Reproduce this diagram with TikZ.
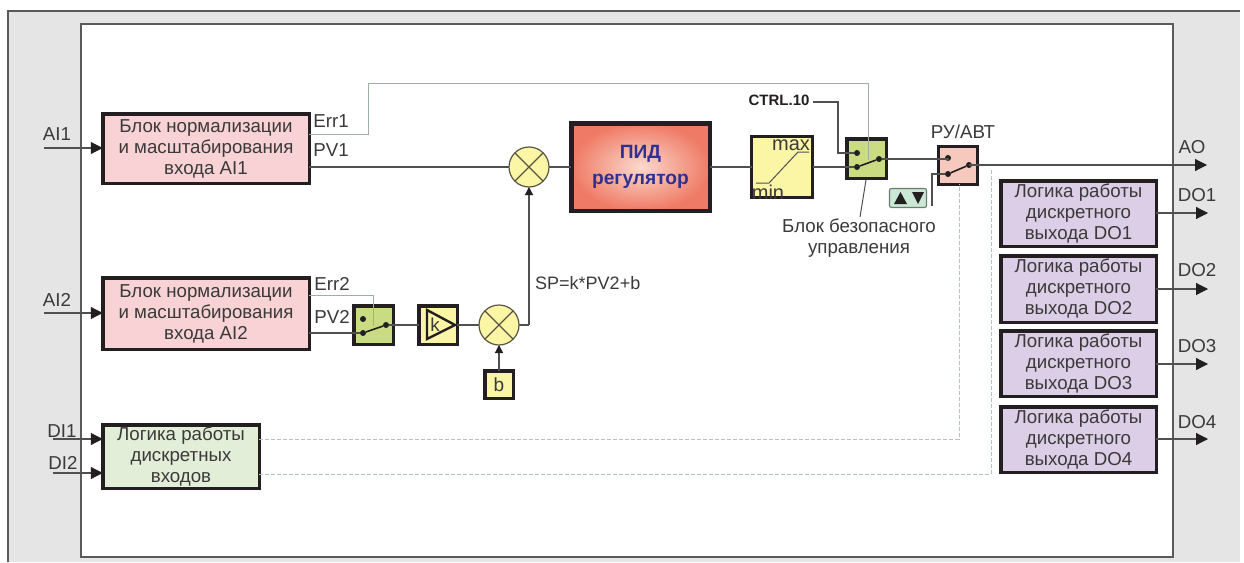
\documentclass[tikz,border=0pt]{standalone}
\usepackage{fontspec}
\setmainfont{Liberation Sans}
\usetikzlibrary{arrows.meta,calc,shadings}
\definecolor{txt}{HTML}{3A3A3A}
\definecolor{wire}{HTML}{505050}
\definecolor{softwire}{HTML}{9DB0A4}
\definecolor{dashwire}{HTML}{B4C4BA}
\definecolor{edge}{HTML}{231F20}
\definecolor{pinkbox}{HTML}{F8D2D4}
\definecolor{greenbox}{HTML}{E3EED8}
\definecolor{lilacbox}{HTML}{DCCEE6}
\definecolor{switchgreen}{HTML}{C9DC82}
\definecolor{switchpink}{HTML}{F6C8BE}
\definecolor{yellowbox}{HTML}{FBF5A6}
\definecolor{pidouter}{HTML}{EF7B66}
\definecolor{pidinner}{HTML}{FBD9CC}
\definecolor{pidtext}{HTML}{2E3192}
\definecolor{panel}{HTML}{E5E5E5}
\definecolor{panelline}{HTML}{5A5A5A}
\definecolor{btnfill}{HTML}{CBE7D6}
\tikzset{
  sz/.style 2 args={minimum width=#1pt,minimum height=#2pt},
  block/.style={draw=edge,line width=3.5pt,inner sep=0pt,outer sep=0pt,text=txt,align=center,
    font=\fontsize{18.7}{21}\selectfont},
  small/.style={draw=edge,line width=3.5pt,inner sep=0pt,outer sep=0pt,text=txt},
  lbl/.style={text=txt,inner sep=0pt,font=\fontsize{18.7}{21}\selectfont,align=center},
  sumnode/.style={circle,draw=edge!75!yellowbox,line width=1.2pt,fill=yellowbox,minimum size=40pt,inner sep=0pt,outer sep=0pt},
  wireline/.style={draw=wire,line width=1.2pt},
  softline/.style={draw=softwire,line width=1pt},
  dashline/.style={draw=dashwire,line width=1pt,dash pattern=on 4pt off 2pt},
  arr/.style={wireline,-{Triangle[length=12pt,width=12pt,color=edge,fill=edge]}},
  arrsmall/.style={wireline,-{Triangle[length=8pt,width=8pt,color=edge,fill=edge]}},
  dotnode/.style={circle,fill=edge,minimum size=6pt,inner sep=0pt,outer sep=0pt},
  lever/.style={draw=edge,line width=1.6pt},
}
\begin{document}
\begin{tikzpicture}[x=1pt,y=-1pt]
\useasboundingbox (0,0) rectangle (1244,562);
% panel
\fill[panel] (8,11) rectangle (1240,562);
\draw[panelline,line width=1.2pt] (8,562) -- (8,11) -- (1240,11);
\draw[panelline,line width=1.2pt,fill=white] (81,24) rectangle (1173,557);
% input blocks
\node[block,sz={206.5}{69.5},fill=pinkbox] (ai1) at (206,148.5) {Блок нормализации\\и масштабирования\\входа AI1};
\node[block,sz={206.5}{71.5},fill=pinkbox] (ai2) at (206,313.5) {Блок нормализации\\и масштабирования\\входа AI2};
\node[block,sz={156.5}{63.5},fill=greenbox] (di) at (181,456.5) {Логика работы\\дискретных\\входов};
% right blocks
\node[block,sz={155.5}{65.5},fill=lilacbox] (do1) at (1078.5,213.5) {Логика работы\\дискретного\\выхода DO1};
\node[block,sz={155.5}{66.5},fill=lilacbox] (do2) at (1078.5,289) {Логика работы\\дискретного\\выхода DO2};
\node[block,sz={155.5}{65.5},fill=lilacbox] (do3) at (1078.5,363.5) {Логика работы\\дискретного\\выхода DO3};
\node[block,sz={155.5}{65.5},fill=lilacbox] (do4) at (1078.5,439.5) {Логика работы\\дискретного\\выхода DO4};
% PID
\node[draw=edge,line width=4.5pt,sz={138.5}{87.5},inner sep=0pt,outer sep=0pt,
  inner color=pidinner,outer color=pidouter,align=center,text=pidtext,
  font=\fontsize{19.2}{26}\selectfont\bfseries] (pid) at (640.5,167) {ПИД\\регулятор};
% summing junctions
\node[sumnode] (sum1) at (529,167) {};
\draw[edge!75!yellowbox,line width=1.2pt] (sum1.45) -- (sum1.225) (sum1.135) -- (sum1.315);
\node[sumnode] (sum2) at (499,325) {};
\draw[edge!75!yellowbox,line width=1.2pt] (sum2.45) -- (sum2.225) (sum2.135) -- (sum2.315);
% limiter
\node[small,sz={61}{61},fill=yellowbox] (lim) at (782,167) {};
\coordinate (lima) at (756,183);\coordinate (limb) at (769,183);
\coordinate (limc) at (798,152);\coordinate (limd) at (809,152);
\draw[draw=wire,line width=1pt] (lima) -- (limb) -- (limc) -- (limd);
\node[lbl,font=\fontsize{20}{21}\selectfont] (maxt) at (791,145) {max};
\node[lbl,font=\fontsize{20}{21}\selectfont] (mint) at (768,192) {min};
% safe switch
\node[small,sz={39.5}{39.5},fill=switchgreen] (sw1) at (866.5,158.5) {};
% man/auto switch
\node[small,sz={38.5}{37.5},fill=switchpink,line width=3pt] (sw2) at (958,165.5) {};
% AI2 switch
\node[small,sz={39.5}{38.5},fill=switchgreen] (sw3) at (373.5,325) {};
% k gain
\node[small,sz={38.5}{38.5},fill=yellowbox] (kb) at (438,325) {};
\coordinate (ka) at (427,310);\coordinate (kc) at (455,325);\coordinate (kd) at (427,339);
\draw[draw=edge,line width=2.4pt,line join=miter] (ka) -- (kc) -- (kd) -- cycle;
\node[lbl] (kt) at (435,325) {k};
% b
\node[small,sz={28.5}{27.5},fill=yellowbox] (bb) at (499,384.5) {\fontsize{19}{21}\selectfont b};
% arrows button
\node[draw=softwire!70!black,line width=1.2pt,fill=btnfill,rounded corners=2pt,sz={37}{19},inner sep=0pt] (btn) at (908,198) {};
\fill[edge] (894,204) -- (900.5,192) -- (907,204) -- cycle;
\fill[edge] (912,192) -- (924,192) -- (918,204) -- cycle;
% port coordinates
\coordinate (ai1in) at (44,148);
\coordinate (ai2in) at (44,313);
\coordinate (di1in) at (53,439);
\coordinate (di2in) at (53,473);
\coordinate (aoout) at (1207,165);
\coordinate (do1o) at (1208,213);
\coordinate (do2o) at (1208,289);
\coordinate (do3o) at (1208,364);
\coordinate (do4o) at (1208,439);
% switch contacts
\node[dotnode] (s1a) at (857,153) {};
\node[dotnode] (s1b) at (857,167) {};
\node[dotnode] (s1c) at (879,159) {};
\draw[lever] (s1b) -- (s1c);
\node[dotnode] (s2a) at (948,158) {};
\node[dotnode] (s2b) at (948,174) {};
\node[dotnode] (s2c) at (969,165) {};
\draw[lever] (s2b) -- (s2c);
\node[dotnode] (s3a) at (363,319) {};
\node[dotnode] (s3b) at (363,333) {};
\node[dotnode] (s3c) at (386,325) {};
\draw[lever] (s3b) -- (s3c);
% inputs / outputs
\draw[arr] (ai1in) -- (ai1.west |- ai1in);
\draw[arr] (ai2in) -- (ai2.west |- ai2in);
\draw[arr] (di1in) -- (di.west |- di1in);
\draw[arr] (di2in) -- (di.west |- di2in);
\draw[arr] (s2c) -- (aoout -| s2c) -- (aoout);
\draw[arr] (do1.east |- do1o) -- (do1o);
\draw[arr] (do2.east |- do2o) -- (do2o);
\draw[arr] (do3.east |- do3o) -- (do3o);
\draw[arr] (do4.east |- do4o) -- (do4o);
% main signal path
\draw[wireline] (ai1.east |- sum1) -- (sum1.west);
\draw[wireline] (sum1.east) -- (pid.west);
\draw[wireline] (pid.east) -- (lim.west);
\draw[wireline] (lim.east) -- (s1b);
\draw[wireline] (s1c) -- (s1c -| s2a) -- (s2a);
\draw[wireline] (ai2.east |- s3b) -- (s3b);
\draw[wireline] (s3c) -- (kb.west |- s3c);
\draw[wireline] (kb.east) -- (sum2.west);
\coordinate (spc) at (529,325);
\draw[wireline] (sum2.east) -- (spc);
\draw[arrsmall] (spc) -- (sum1.south);
\draw[arrsmall] (bb.north) -- (sum2.south);
% error lines
\coordinate (e1a) at (368,134);\coordinate (e1b) at (368,83);
\coordinate (e1c) at (868,83);\coordinate (e1d) at (868,160);
\draw[softline] (ai1.east |- e1a) -- (e1a) -- (e1b) -- (e1c) -- (e1d);
\coordinate (e3a) at (373,295);\coordinate (e3b) at (373,326);
\draw[softline] (ai2.east |- e3a) -- (e3a) -- (e3b);
% CTRL.10
\node[inner sep=0pt,text=edge,font=\fontsize{15}{16}\selectfont\bfseries] (ctrl) at (779,100) {CTRL.10};
\coordinate (c0) at (813,102);\coordinate (c1) at (838,102);
\draw[wireline] (c0) -- (c1) -- (c1 |- s1a) -- (s1a);
% manual line
\coordinate (m1) at (932,206);
\draw[wireline] (m1) -- (m1 |- s2b) -- (s2b);
% dashed lines
\coordinate (d1) at (959,439);
\draw[dashline] (di.east |- d1) -- (d1) -- (sw2.south -| d1);
\coordinate (d2) at (991,474);\coordinate (d3) at (991,168);
\draw[dashline] (di.east |- d2) -- (d2) -- (d3);
% labels
\node[lbl] (lai1) at (57,134) {AI1};
\node[lbl] (lai2) at (57,300) {AI2};
\node[lbl] (ldi1) at (62,431) {DI1};
\node[lbl] (ldi2) at (63,463) {DI2};
\node[lbl] (lerr1) at (331,121) {Err1};
\node[lbl] (lpv1) at (331,150) {PV1};
\node[lbl] (lerr2) at (332,284) {Err2};
\node[lbl] (lpv2) at (332,317) {PV2};
\node[lbl,anchor=west,font=\fontsize{18}{21}\selectfont] (lsp) at (535,283) {SP=k*PV2+b};
\node[lbl] (lman) at (963,132) {РУ/АВТ};
\node[lbl] (lsafe) at (859,238) {Блок безопасного\\управления};
\coordinate (p1) at (866,180);\coordinate (p2) at (860,217);
\draw[draw=wire,line width=1pt] (p1) -- (p2);
\node[lbl] (lao) at (1192,147) {AO};
\node[lbl] (ldo1) at (1197,195) {DO1};
\node[lbl] (ldo2) at (1197,270) {DO2};
\node[lbl] (ldo3) at (1197,346) {DO3};
\node[lbl] (ldo4) at (1197,422) {DO4};
\end{tikzpicture}
\end{document}
